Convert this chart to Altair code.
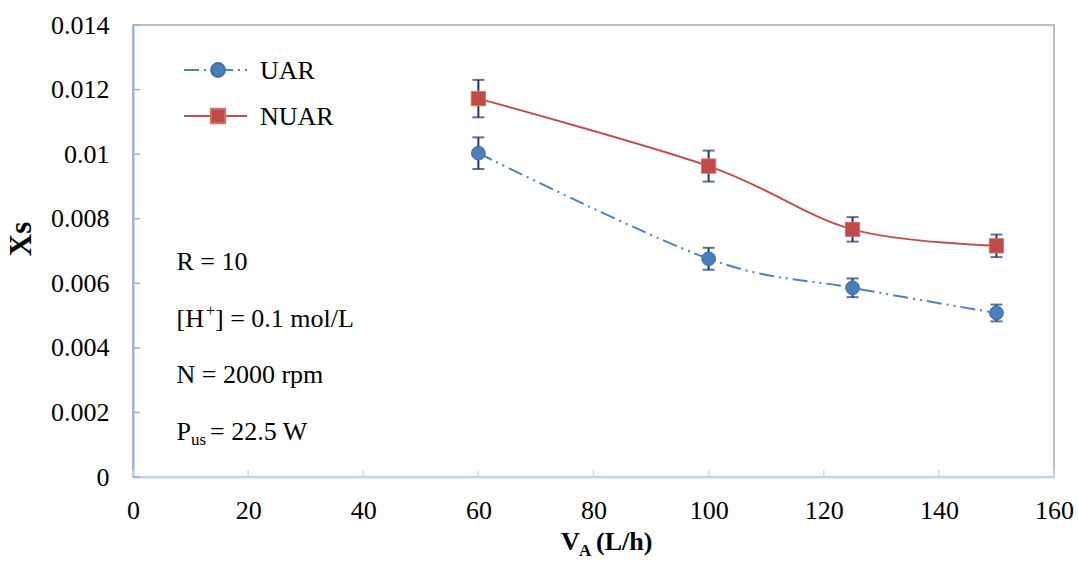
import altair as alt
import pandas as pd

# ---- data ----
va = [60, 100, 125, 150]
uar = [0.01003, 0.00676, 0.00586, 0.00508]
uar_err = [0.00049, 0.00034, 0.00029, 0.00026]
nuar = [0.01172, 0.00963, 0.00767, 0.00716]
nuar_err = [0.00058, 0.00048, 0.00038, 0.00035]

series_names = ["UAR", "NUAR"]
x_ticks = [0, 20, 40, 60, 80, 100, 120, 140, 160]
y_ticks = [0, 0.002, 0.004, 0.006, 0.008, 0.01, 0.012, 0.014]

notes = ["R = 10", "N = 2000 rpm"]

FONT = "'Times New Roman', 'Liberation Serif', serif"
FS = 26
BLUE = "#4F81BD"
BLUE_FILL = "#4A7EBB"
RED = "#C0504D"
ERR = "#1F3864"

df_u = pd.DataFrame({"va": va, "xs": uar, "lo": [v - e for v, e in zip(uar, uar_err)],
                     "hi": [v + e for v, e in zip(uar, uar_err)]})
df_n = pd.DataFrame({"va": va, "xs": nuar, "lo": [v - e for v, e in zip(nuar, nuar_err)],
                     "hi": [v + e for v, e in zip(nuar, nuar_err)]})

xs = alt.Scale(domain=[0, 160], nice=False)
ys = alt.Scale(domain=[0, 0.014], nice=False)

X = alt.X("va:Q", scale=xs, axis=alt.Axis(values=x_ticks, title=None, ticks=False, grid=False,
                                           domainColor="#C6D9F1", domainWidth=2,
                                           labelFont=FONT, labelFontSize=FS, labelColor="black",
                                           labelPadding=20, labelFlush=False))
Y = alt.Y("xs:Q", scale=ys, axis=alt.Axis(values=y_ticks, title=None, ticks=False, grid=False,
                                           format="~g", domainColor="#8EB4E3", domainWidth=2,
                                           labelFont=FONT, labelFontSize=FS, labelColor="black",
                                           labelPadding=24, labelFlush=False))

one = alt.Data(values=[{}])

# inward ticks
xt = alt.Chart(pd.DataFrame({"t": x_ticks})).mark_rule(color="#C6D9F1", strokeWidth=1.5).encode(
    x=alt.X("t:Q", scale=xs), y=alt.value(452), y2=alt.value(445))
yt = alt.Chart(pd.DataFrame({"t": y_ticks})).mark_rule(color="#8EB4E3", strokeWidth=1.5).encode(
    y=alt.Y("t:Q", scale=ys), x=alt.value(0), x2=alt.value(7))

line_u = alt.Chart(df_u).mark_line(color=BLUE, strokeWidth=2, strokeDash=[15, 5, 2, 5, 2, 5],
                                   interpolate="cardinal").encode(x=X, y=Y)
line_n = alt.Chart(df_n).mark_line(color=RED, strokeWidth=2, interpolate="cardinal").encode(x=X, y=Y)

def errbars(df):
    r = alt.Chart(df).mark_rule(color=ERR, strokeWidth=2).encode(
        x=alt.X("va:Q", scale=xs), y=alt.Y("lo:Q", scale=ys), y2="hi:Q")
    t1 = alt.Chart(df).mark_tick(color=ERR, thickness=2, size=12, orient="horizontal").encode(
        x=alt.X("va:Q", scale=xs), y=alt.Y("lo:Q", scale=ys))
    t2 = alt.Chart(df).mark_tick(color=ERR, thickness=2, size=12, orient="horizontal").encode(
        x=alt.X("va:Q", scale=xs), y=alt.Y("hi:Q", scale=ys))
    return r + t1 + t2

pts_u = alt.Chart(df_u).mark_point(shape="circle", filled=True, size=190, fill=BLUE_FILL,
                                   stroke="#3C6EAA", strokeWidth=1, opacity=1).encode(x=X, y=Y)
pts_n = alt.Chart(df_n).mark_point(shape="square", filled=True, size=205, fill="#BE4B48",
                                   stroke="#D07370", strokeWidth=1, opacity=1).encode(x=X, y=Y)

# legend (drawn)
leg_u_line = alt.Chart(one).mark_rule(color=BLUE, strokeWidth=2, strokeDash=[15, 5, 2, 5, 2, 5]).encode(
    x=alt.value(51), x2=alt.value(114), y=alt.value(45))
leg_u_pt = alt.Chart(one).mark_point(shape="circle", filled=True, size=190, fill=BLUE_FILL,
                                     stroke="#3C6EAA", opacity=1).encode(x=alt.value(85), y=alt.value(45))
leg_n_line = alt.Chart(one).mark_rule(color=RED, strokeWidth=2).encode(
    x=alt.value(51), x2=alt.value(114), y=alt.value(91))
leg_n_pt = alt.Chart(one).mark_point(shape="square", filled=True, size=205, fill="#BE4B48",
                                     stroke="#D07370", opacity=1).encode(x=alt.value(85), y=alt.value(91))

def txt(t, x, y, fs=FS, bold=False, angle=None, align="left", baseline="alphabetic"):
    kw = dict(text=t, font=FONT, fontSize=fs, align=align, baseline=baseline, color="black")
    if bold:
        kw["fontWeight"] = "bold"
    if angle is not None:
        kw["angle"] = angle
    return alt.Chart(one).mark_text(**kw).encode(x=alt.value(x), y=alt.value(y))

ann = [
    txt(series_names[0], 127, 54),
    txt(series_names[1], 127, 100),
    txt(notes[0], 43.5, 245),
    txt("[H", 43.5, 301.5),
    txt("+", 73, 291, fs=16),
    txt("] = 0.1 mol/L", 82, 301.5),
    txt(notes[1], 43.5, 358),
    txt("P", 43.5, 414.5),
    txt("us", 58, 420, fs=17),
    txt("= 22.5 W", 77, 414.5),
    # axis titles
    txt("Xs", -111, 214, fs=31, bold=True, angle=270, align="center", baseline="middle"),
    txt("V", 428, 525, bold=True),
    txt("A", 446, 531, fs=17, bold=True),
    txt("(L/h)", 463, 525, bold=True),
]

chart = alt.layer(
    xt, yt, line_u, line_n, errbars(df_u), errbars(df_n), pts_u, pts_n,
    leg_u_line, leg_u_pt, leg_n_line, leg_n_pt, *ann
).properties(
    width=921, height=452,
    autosize=alt.AutoSizeParams(type="none"),
    padding={"left": 133, "top": 25, "right": 24, "bottom": 89},
    background="white",
).configure_view(stroke="#BFBFBF", strokeWidth=2)

chart.save("out.html", embed_options={"renderer": "svg", "actions": False})
